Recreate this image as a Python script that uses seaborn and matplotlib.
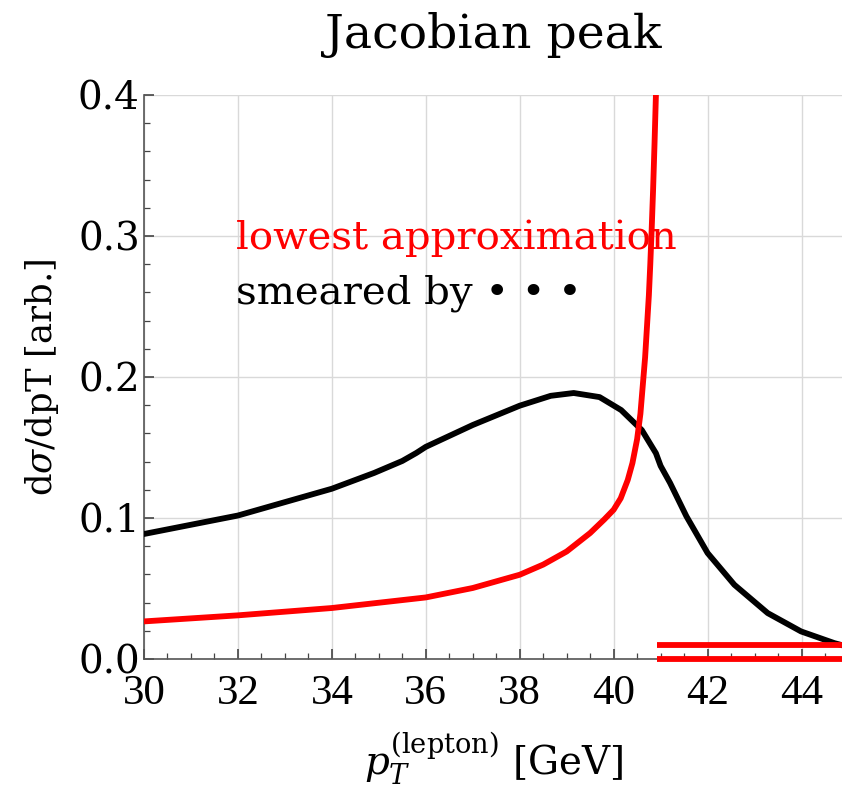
"""
Jacobian peak: lowest-order pT spectrum vs smeared spectrum
"""
import pandas as pd
import matplotlib
matplotlib.use('Agg')
import matplotlib.pyplot as plt
from matplotlib.ticker import MultipleLocator, FormatStrFormatter
import seaborn as sns

# lowest approximation
pt_lowest = [30, 32, 34, 36, 37, 38, 38.5, 39, 39.5, 39.8, 40, 40.15, 40.3, 40.4, 40.5, 40.57,
             40.62, 40.67, 40.71, 40.75, 40.78, 40.81, 40.84, 40.87, 40.9]
ds_lowest = [0.0267, 0.031, 0.0362, 0.0437, 0.0504, 0.0598, 0.067, 0.0763, 0.0894, 0.099, 0.1059, 0.114, 0.127, 0.139, 0.156, 0.174,
             0.194, 0.214, 0.236, 0.258, 0.280, 0.305, 0.333, 0.365, 0.400]

# smeared spectrum
pt_smeared = [30, 32, 34, 34.9, 35.5, 35.8, 36, 37, 38, 38.66, 39.15, 39.7, 40.16, 40.6, 40.9, 41.0, 41.2,
              41.55, 42.0, 42.57, 43.28, 43.99, 44.7, 44.9]
ds_smeared = [0.0887, 0.1018, 0.1208, 0.132, 0.1405, 0.1462, 0.1505, 0.166, 0.1797, 0.1867, 0.1887, 0.1858, 0.1766, 0.1624, 0.146, 0.137, 0.125,
              0.1012, 0.0752, 0.0527, 0.0326, 0.0196, 0.0113, 0.0095]

# flat red segments past the endpoint
pt_tail = [40.92, 44.9]
ds_tail_upper = [0.010, 0.010]
ds_tail_zero = [0.0, 0.0]

sns.set_style('white')
plt.rcParams['font.family'] = ['DejaVu Serif']
plt.rcParams['mathtext.fontset'] = 'dejavuserif'
plt.rcParams['text.color'] = 'black'
plt.rcParams['axes.labelcolor'] = 'black'
plt.rcParams['xtick.color'] = 'black'
plt.rcParams['ytick.color'] = 'black'

fig = plt.figure(figsize=(8.42, 7.95), dpi=100)
ax = fig.add_axes([0.171, 0.171, 0.830, 0.7094])

df_low = pd.DataFrame({'pt': pt_lowest, 'ds': ds_lowest})
df_sm = pd.DataFrame({'pt': pt_smeared, 'ds': ds_smeared})

sns.lineplot(data=df_sm, x='pt', y='ds', color='black', lw=4.2, ax=ax, sort=False, zorder=3)
sns.lineplot(data=df_low, x='pt', y='ds', color='#ff0000', lw=4.2, ax=ax, sort=False, zorder=4)
ax.plot(pt_tail, ds_tail_upper, color='#ff0000', lw=4.2, zorder=4, solid_capstyle='butt')
ax.plot(pt_tail, ds_tail_zero, color='#ff0000', lw=4.2, zorder=4, clip_on=False, solid_capstyle='butt')

ax.set_xlim(30, 44.88)
ax.set_ylim(0, 0.4)
ax.xaxis.set_major_locator(MultipleLocator(2))
ax.xaxis.set_minor_locator(MultipleLocator(0.5))
ax.yaxis.set_major_locator(MultipleLocator(0.1))
ax.yaxis.set_minor_locator(MultipleLocator(0.02))
ax.yaxis.set_major_formatter(FormatStrFormatter('%.1f'))
ax.grid(True, which='major', color='#d9d9d9', lw=1)
ax.set_axisbelow(True)

for s in ['top', 'right']:
    ax.spines[s].set_visible(False)
for s in ['left', 'bottom']:
    ax.spines[s].set_color('#555555')
    ax.spines[s].set_linewidth(1.2)

ax.tick_params(which='both', direction='in', color='#444444', bottom=True, left=True, top=False, right=False)
ax.tick_params(which='major', length=7, width=1.2)
ax.tick_params(which='minor', length=4, width=0.9)
ax.tick_params(axis='y', labelsize=28, pad=3)
ax.tick_params(axis='x', labelsize=31, pad=11)
for lab in ax.get_xticklabels():
    lab.set_family('Liberation Serif')

ax.set_xlabel(r'$p_T^{(\mathrm{lepton})}$ [GeV]', fontsize=28, labelpad=13)
ax.set_ylabel(r'd$\sigma$/dpT [arb.]', fontsize=25.5, labelpad=12)
ax.set_title('Jacobian peak', fontsize=34, pad=34)

ax.text(31.96, 0.291, 'lowest approximation', color='#ff0000', fontsize=29, zorder=2)
ax.text(31.96, 0.252, 'smeared by \u2022 \u2022 \u2022', color='black', fontsize=29, zorder=2)

fig.savefig('out.png', dpi=100)
